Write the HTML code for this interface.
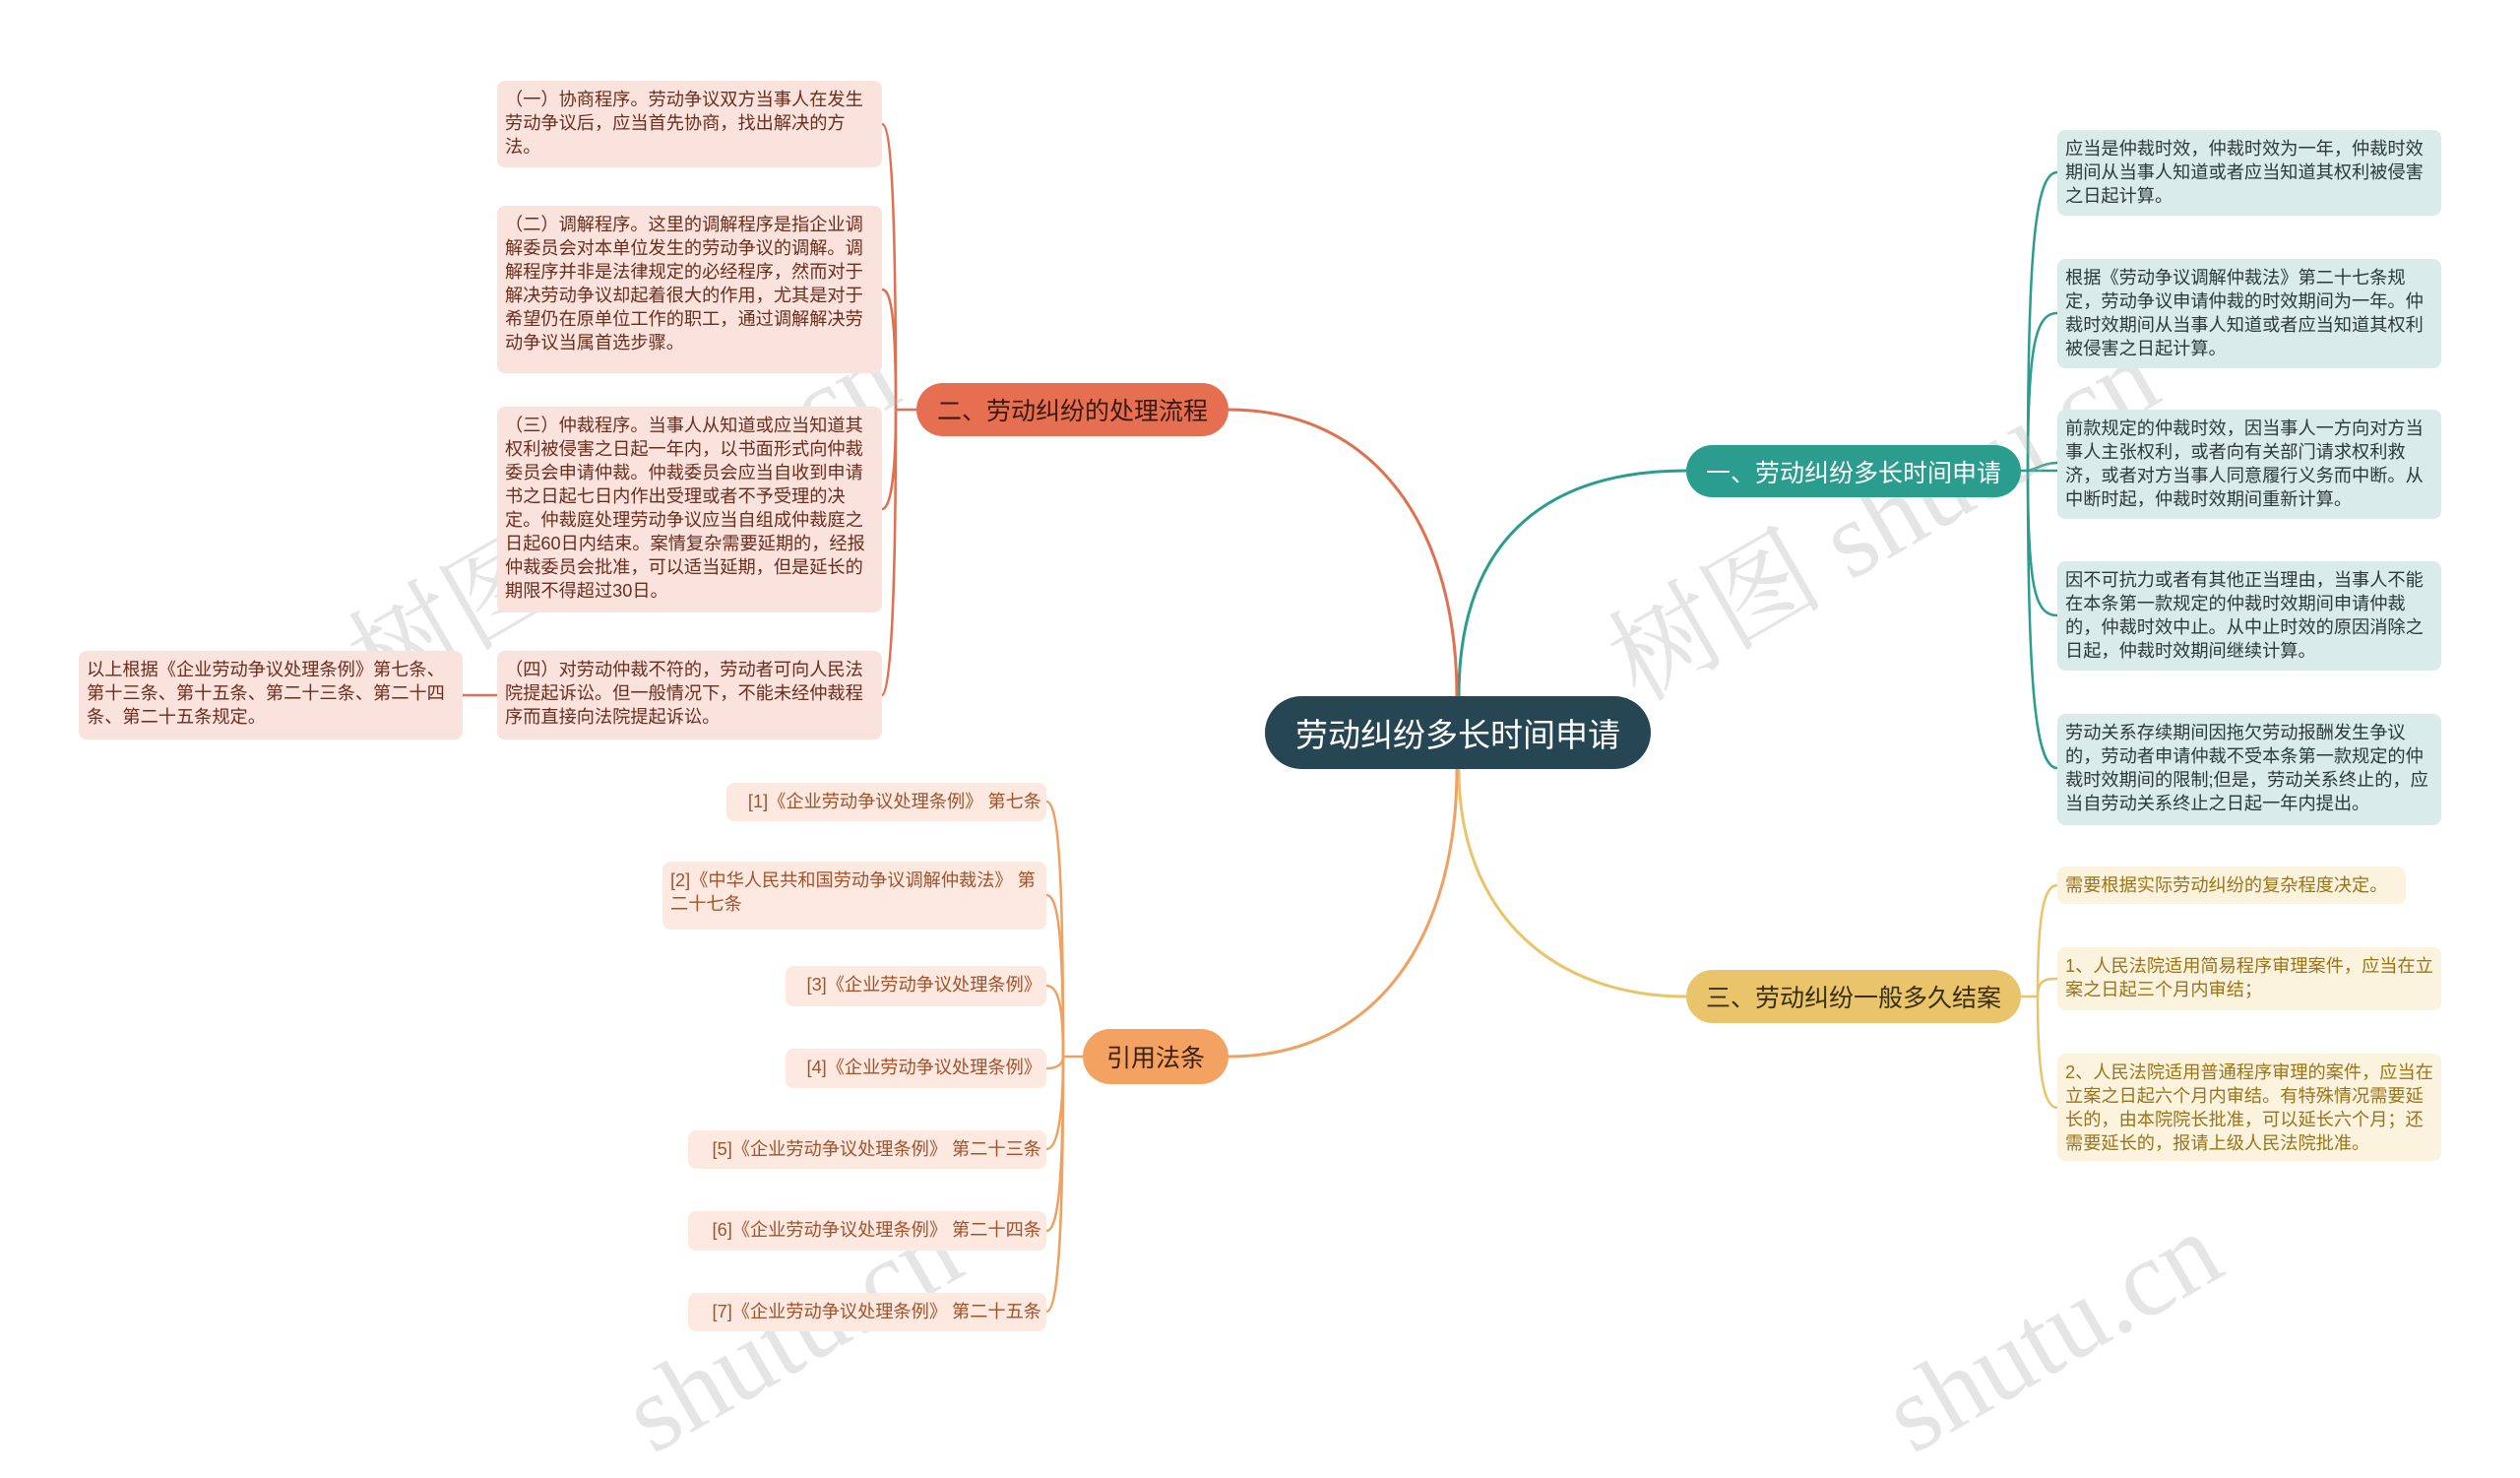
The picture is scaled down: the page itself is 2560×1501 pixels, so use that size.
<!DOCTYPE html>
<html><head><meta charset="utf-8"><style>
*{margin:0;padding:0;box-sizing:border-box}
body{width:2560px;height:1433px;background:#fff;position:relative;overflow:hidden;font-family:"Liberation Sans","Noto Sans CJK SC",sans-serif}
.n{position:absolute;border-radius:8px;font-size:18.2px;line-height:24px;padding:7px 5px 7px 8px;overflow:hidden}
.t{background:#d9ecea;color:#2b3a3a}
.o{background:#fae3dd;color:#6b2e1e}
.y{background:#fcf3de;color:#9a7418}
.c{background:#fde9df;color:#a0522d}
.b{position:absolute;border-radius:28px;color:#fff;display:flex;align-items:center;justify-content:center;font-size:25px}
.wm{position:absolute;color:rgba(180,180,180,.35);font-family:"Liberation Serif","Noto Serif CJK SC",serif;font-size:110px;transform:rotate(-30deg);white-space:nowrap}
</style></head><body>
<svg width="2560" height="1433" style="position:absolute;left:0;top:0" fill="none" stroke-width="3">
<path d="M1482 707 C1482 540 1580 478 1713 478" stroke="#2a9d8f"/>
<path d="M1480 707 C1480 540 1400 416 1248 416" stroke="#e07050"/>
<path d="M1482 781 C1482 930 1580 1012 1713 1012" stroke="#e9c46a"/>
<path d="M1480 781 C1480 950 1400 1073 1248 1073" stroke="#f0a060"/>
<g stroke="#2a9d8f" stroke-width="2.5">
<path d="M2053 478 C2070 478 2070 478 2090 478"/>
<path d="M2060 478 C2060 250 2068 175 2090 175"/>
<path d="M2060 478 C2060 350 2068 318 2090 318"/>
<path d="M2060 478 C2066 478 2075 470 2090 470"/>
<path d="M2060 478 C2060 600 2068 625 2090 625"/>
<path d="M2060 478 C2060 700 2068 780 2090 780"/>
</g>
<g stroke="#e07050" stroke-width="2.5">
<path d="M931 416 L910 416"/>
<path d="M910 416 C910 200 905 126 896 126"/>
<path d="M910 416 C910 320 905 294 896 294"/>
<path d="M910 416 C910 480 905 517 896 517"/>
<path d="M910 416 C910 600 905 706 896 706"/>
<path d="M505 706 L470 706"/>
</g>
<g stroke="#e9c46a" stroke-width="2.5">
<path d="M2053 1012 L2070 1012"/>
<path d="M2070 1012 C2070 920 2078 899 2090 899"/>
<path d="M2070 1012 C2070 995 2078 994 2090 994"/>
<path d="M2070 1012 C2070 1100 2078 1125 2090 1125"/>
</g>
<g stroke="#f0a060" stroke-width="2.5">
<path d="M1100 1073 L1080 1073"/>
<path d="M1080 1073 C1080 880 1075 814 1063 814"/>
<path d="M1080 1073 C1080 950 1075 909 1063 909"/>
<path d="M1080 1073 C1080 1020 1075 1001 1063 1001"/>
<path d="M1080 1073 C1080 1080 1075 1085 1063 1085"/>
<path d="M1080 1073 C1080 1130 1075 1167 1063 1167"/>
<path d="M1080 1073 C1080 1200 1075 1250 1063 1250"/>
<path d="M1080 1073 C1080 1250 1075 1332 1063 1332"/>
</g>
</svg>

<div class="wm" style="left:320px;top:440px">树图 shutu.cn</div>
<div class="wm" style="left:1600px;top:440px">树图 shutu.cn</div>
<div class="wm" style="left:620px;top:1290px">shutu.cn</div>
<div class="wm" style="left:1900px;top:1290px">shutu.cn</div>

<div class="b" style="left:1285px;top:707px;width:392px;height:74px;background:#264653;border-radius:37px;font-size:33px">劳动纠纷多长时间申请</div>
<div class="b" style="left:1713px;top:452px;width:340px;height:53px;background:#2a9d8f">一、劳动纠纷多长时间申请</div>
<div class="b" style="left:931px;top:389px;width:317px;height:54px;background:#e76f51;color:#3a1a10">二、劳动纠纷的处理流程</div>
<div class="b" style="left:1713px;top:985px;width:340px;height:54px;background:#e9c46a;color:#3a2e10">三、劳动纠纷一般多久结案</div>
<div class="b" style="left:1100px;top:1045px;width:148px;height:56px;background:#f4a261;color:#3a1f0a">引用法条</div>

<div class="n t" style="left:2090px;top:132px;width:390px;height:87px">应当是仲裁时效，仲裁时效为一年，仲裁时效期间从当事人知道或者应当知道其权利被侵害之日起计算。</div>
<div class="n t" style="left:2090px;top:263px;width:390px;height:111px">根据《劳动争议调解仲裁法》第二十七条规定，劳动争议申请仲裁的时效期间为一年。仲裁时效期间从当事人知道或者应当知道其权利被侵害之日起计算。</div>
<div class="n t" style="left:2090px;top:416px;width:390px;height:111px">前款规定的仲裁时效，因当事人一方向对方当事人主张权利，或者向有关部门请求权利救济，或者对方当事人同意履行义务而中断。从中断时起，仲裁时效期间重新计算。</div>
<div class="n t" style="left:2090px;top:570px;width:390px;height:111px">因不可抗力或者有其他正当理由，当事人不能在本条第一款规定的仲裁时效期间申请仲裁的，仲裁时效中止。从中止时效的原因消除之日起，仲裁时效期间继续计算。</div>
<div class="n t" style="left:2090px;top:725px;width:390px;height:113px">劳动关系存续期间因拖欠劳动报酬发生争议的，劳动者申请仲裁不受本条第一款规定的仲裁时效期间的限制;但是，劳动关系终止的，应当自劳动关系终止之日起一年内提出。</div>

<div class="n y" style="left:2090px;top:880px;width:354px;height:38px">需要根据实际劳动纠纷的复杂程度决定。</div>
<div class="n y" style="left:2090px;top:962px;width:390px;height:64px">1、人民法院适用简易程序审理案件，应当在立案之日起三个月内审结；</div>
<div class="n y" style="left:2090px;top:1070px;width:390px;height:109px">2、人民法院适用普通程序审理的案件，应当在立案之日起六个月内审结。有特殊情况需要延长的，由本院院长批准，可以延长六个月；还需要延长的，报请上级人民法院批准。</div>

<div class="n o" style="left:505px;top:82px;width:391px;height:88px">（一）协商程序。劳动争议双方当事人在发生劳动争议后，应当首先协商，找出解决的方法。</div>
<div class="n o" style="left:505px;top:209px;width:391px;height:170px">（二）调解程序。这里的调解程序是指企业调解委员会对本单位发生的劳动争议的调解。调解程序并非是法律规定的必经程序，然而对于解决劳动争议却起着很大的作用，尤其是对于希望仍在原单位工作的职工，通过调解解决劳动争议当属首选步骤。</div>
<div class="n o" style="left:505px;top:413px;width:391px;height:209px">（三）仲裁程序。当事人从知道或应当知道其权利被侵害之日起一年内，以书面形式向仲裁委员会申请仲裁。仲裁委员会应当自收到申请书之日起七日内作出受理或者不予受理的决定。仲裁庭处理劳动争议应当自组成仲裁庭之日起60日内结束。案情复杂需要延期的，经报仲裁委员会批准，可以适当延期，但是延长的期限不得超过30日。</div>
<div class="n o" style="left:505px;top:661px;width:391px;height:90px">（四）对劳动仲裁不符的，劳动者可向人民法院提起诉讼。但一般情况下，不能未经仲裁程序而直接向法院提起诉讼。</div>
<div class="n o" style="left:80px;top:661px;width:390px;height:90px">以上根据《企业劳动争议处理条例》第七条、第十三条、第十五条、第二十三条、第二十四条、第二十五条规定。</div>

<div class="n c" style="left:738px;top:795px;width:325px;height:39px;text-align:right">[1]《企业劳动争议处理条例》 第七条</div>
<div class="n c" style="left:673px;top:875px;width:390px;height:69px">[2]《中华人民共和国劳动争议调解仲裁法》 第二十七条</div>
<div class="n c" style="left:798px;top:981px;width:265px;height:41px;text-align:right">[3]《企业劳动争议处理条例》</div>
<div class="n c" style="left:798px;top:1065px;width:265px;height:40px;text-align:right">[4]《企业劳动争议处理条例》</div>
<div class="n c" style="left:699px;top:1148px;width:364px;height:39px;text-align:right">[5]《企业劳动争议处理条例》 第二十三条</div>
<div class="n c" style="left:699px;top:1230px;width:364px;height:40px;text-align:right">[6]《企业劳动争议处理条例》 第二十四条</div>
<div class="n c" style="left:699px;top:1313px;width:364px;height:39px;text-align:right">[7]《企业劳动争议处理条例》 第二十五条</div>
</body></html>
